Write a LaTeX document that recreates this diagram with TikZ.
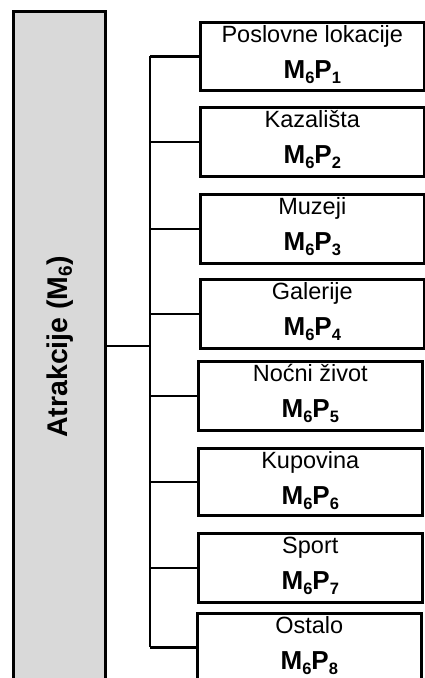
\documentclass[tikz,border=0pt]{standalone}
\usepackage{fontspec}
\setmainfont{Liberation Sans}
\definecolor{mgray}{RGB}{217,217,217}
\newcommand\lowsub[2][16.5]{\raisebox{-4.5pt}{\fontsize{#1}{#1}\selectfont #2}}
\tikzset{
  catbox/.style={draw, line width=2.6pt, fill=white, inner sep=0pt, anchor=north west, minimum width=224pt},
  lbl/.style={font=\fontsize{23.5}{23.5}\selectfont, anchor=base, inner sep=0pt},
  codelbl/.style={font=\fontsize{26}{26}\selectfont\bfseries, anchor=base, inner sep=0pt},
  link/.style={line width=2.6pt}
}
\begin{document}
\begin{tikzpicture}[x=1pt,y=-1pt]
\clip (0,0) rectangle (425,678);
\fill[white] (0,0) rectangle (425,678);
% main category
\node[draw, line width=2.8pt, fill=mgray, anchor=north west, minimum width=92pt, minimum height=690pt, inner sep=0pt] (m) at (12,10) {};
\node[rotate=90, inner sep=0pt, font=\fontsize{28.5}{28.5}\selectfont\bfseries] (mt) at (60,347) {Atrakcije (M\lowsub[19]{6})};
% sub boxes
\node[catbox, minimum height=68pt] (b1) at (199,21) {};
\node[catbox, minimum height=69pt] (b2) at (199,106) {};
\node[catbox, minimum height=69pt] (b3) at (199,193) {};
\node[catbox, minimum height=69pt] (b4) at (199,278) {};
\node[catbox, minimum height=69pt] (b5) at (197,360) {};
\node[catbox, minimum height=67pt] (b6) at (197,447) {};
\node[catbox, minimum height=69pt] (b7) at (197,532) {};
\node[catbox, minimum height=68pt] (b8) at (196,612) {};
% labels
\node[lbl] (t1) at ([yshift=-21pt]b1.north) {Poslovne lokacije};
\node[lbl] (t2) at ([yshift=-21pt]b2.north) {Kazališta};
\node[lbl] (t3) at ([yshift=-21pt]b3.north) {Muzeji};
\node[lbl] (t4) at ([yshift=-21pt]b4.north) {Galerije};
\node[lbl] (t5) at ([yshift=-21pt]b5.north) {Noćni život};
\node[lbl] (t6) at ([yshift=-21pt]b6.north) {Kupovina};
\node[lbl] (t7) at ([yshift=-21pt]b7.north) {Sport};
\node[lbl] (t8) at ([yshift=-21pt]b8.north) {Ostalo};
\node[codelbl] (c1) at ([yshift=-57.5pt]b1.north) {M\lowsub{6}P\lowsub{1}};
\node[codelbl] (c2) at ([yshift=-57.5pt]b2.north) {M\lowsub{6}P\lowsub{2}};
\node[codelbl] (c3) at ([yshift=-57.5pt]b3.north) {M\lowsub{6}P\lowsub{3}};
\node[codelbl] (c4) at ([yshift=-57.5pt]b4.north) {M\lowsub{6}P\lowsub{4}};
\node[codelbl] (c5) at ([yshift=-57.5pt]b5.north) {M\lowsub{6}P\lowsub{5}};
\node[codelbl] (c6) at ([yshift=-57.5pt]b6.north) {M\lowsub{6}P\lowsub{6}};
\node[codelbl] (c7) at ([yshift=-57.5pt]b7.north) {M\lowsub{6}P\lowsub{7}};
\node[codelbl] (c8) at ([yshift=-57.5pt]b8.north) {M\lowsub{6}P\lowsub{8}};
% connectors
\coordinate (hub) at (150,346);
\draw[link] (m.east |- hub) -- (hub);
\draw[link] (hub |- b1.west) -- (hub |- b8.west);
\foreach \i in {1,...,8} { \draw[link] (hub |- b\i.west) -- (b\i.west); }
\end{tikzpicture}
\end{document}
